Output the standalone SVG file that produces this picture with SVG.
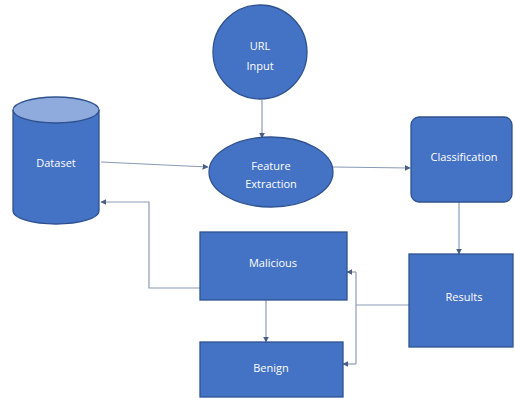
<svg xmlns="http://www.w3.org/2000/svg" width="515" height="398" viewBox="0 0 515 398">
  <style>
    .shape { fill: #4472C4; stroke: #2F528F; stroke-width: 1.3; }
    .label { fill: #ffffff; font-family: "Open Sans", "Liberation Sans", sans-serif; font-size: 11px; text-anchor: middle; dominant-baseline: central; }
    .conn { fill: none; stroke: #8a9bb5; stroke-width: 1.2; }
  </style>
  <defs>
    <marker id="arrow" viewBox="0 0 10 10" refX="9" refY="5" markerWidth="6" markerHeight="6" orient="auto" markerUnits="userSpaceOnUse">
      <path d="M0,0 L10,5 L0,10 z" fill="#4a5f85"/>
    </marker>
  </defs>
  <rect width="515" height="398" fill="#ffffff"/>

  <!-- arrows between the steps -->
  <g id="connectors">
    <path class="conn" d="M262,100 L262,138" marker-end="url(#arrow)"/>
    <path class="conn" d="M101,162 L208,167" marker-end="url(#arrow)"/>
    <path class="conn" d="M333,167 L410,168" marker-end="url(#arrow)"/>
    <path class="conn" d="M459,202 L459,254" marker-end="url(#arrow)"/>
    <path class="conn" d="M200,288 L149,288 L149,202 L101,202" marker-end="url(#arrow)"/>
    <path class="conn" d="M266,300 L266,342" marker-end="url(#arrow)"/>
    <path class="conn" d="M409,305 L356,305"/>
    <path class="conn" d="M356,272 L356,364"/>
    <path class="conn" d="M356,272 L347,272" marker-end="url(#arrow)"/>
    <path class="conn" d="M356,364 L343,364" marker-end="url(#arrow)"/>
  </g>

  <g id="url-input">
    <circle class="shape" cx="260" cy="52" r="47"/>
    <text class="label" x="260" y="45">URL</text>
    <text class="label" x="260" y="65">Input</text>
  </g>

  <g id="dataset">
    <path class="shape" d="M13,110 L13,211 A43,13 0 0 0 99,211 L99,110"/>
    <ellipse cx="56" cy="110" rx="43" ry="13" fill="#8FAADC" stroke="#2F528F" stroke-width="1.3"/>
    <text class="label" x="56" y="162">Dataset</text>
  </g>

  <g id="feature-extraction">
    <ellipse class="shape" cx="271" cy="172" rx="62" ry="35"/>
    <text class="label" x="271" y="165">Feature</text>
    <text class="label" x="271" y="183">Extraction</text>
  </g>

  <g id="classification">
    <rect class="shape" x="411" y="117" width="101" height="85" rx="8"/>
    <text class="label" x="464" y="156">Classification</text>
  </g>

  <g id="results">
    <rect class="shape" x="409" y="254" width="104" height="93"/>
    <text class="label" x="464" y="296">Results</text>
  </g>

  <g id="malicious">
    <rect class="shape" x="200" y="232" width="147" height="68"/>
    <text class="label" x="273" y="262">Malicious</text>
  </g>

  <g id="benign">
    <rect class="shape" x="200" y="342" width="143" height="55"/>
    <text class="label" x="271" y="367">Benign</text>
  </g>
</svg>
